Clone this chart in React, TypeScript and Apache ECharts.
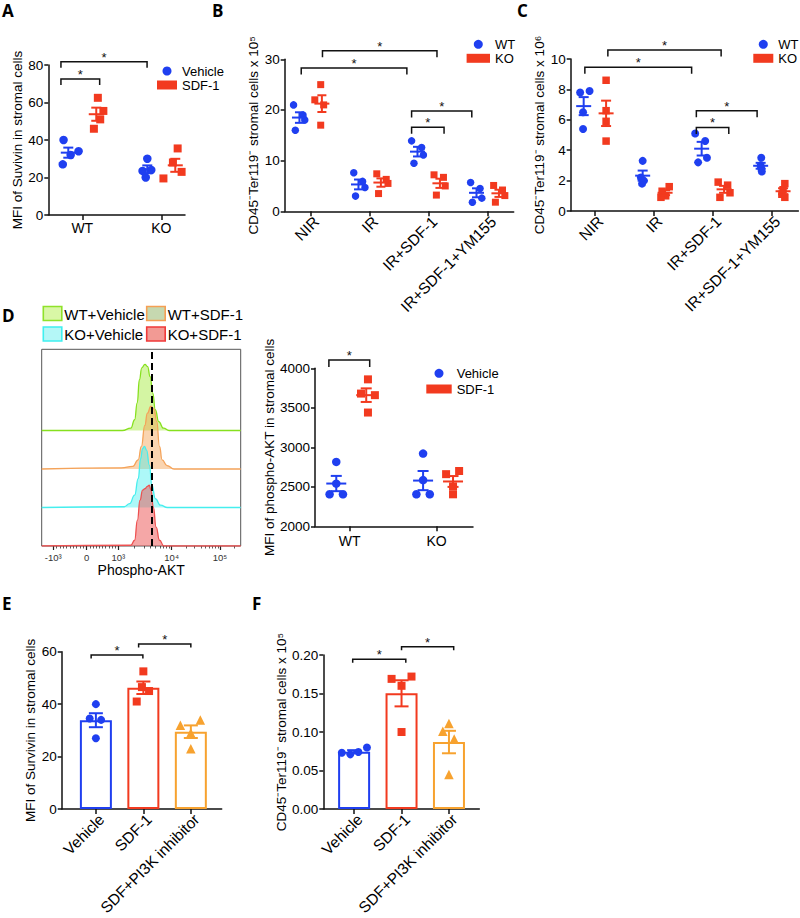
import React, { useEffect, useRef } from 'react';
import * as echarts from 'echarts';

const FONT = '"Liberation Sans", Arial, Helvetica, sans-serif';
const BLUE = '#1f3ff0';
const RED = '#f23a1f';
const ORANGE = '#f7a22f';
const INK = '#111';

// ---------- Panel A ----------
const A_CATEGORIES = ['WT', 'KO'];
const A_VEHICLE = [[40, 27, 32, 34], [30, 20, 24, 23.5]];
const A_SDF1 = [[62.5, 51, 46, 55.5], [35.5, 23, 19.5, 28]];
const A_VEHICLE_SPREAD = [[-0.06, -0.07, 0.03, 0.13], [0, -0.02, 0.05, -0.06]];
const A_SDF1_SPREAD = [[0.02, 0.05, -0.03, 0.09], [0.03, 0.08, -0.15, -0.03]];
const A_BRACKETS = [[-0.27, 0.22, 72.5], [-0.27, 0.82, 81.8]];

// ---------- Panels B & C ----------
const BC_CATEGORIES = ['NIR', 'IR', 'IR+SDF-1', 'IR+SDF-1+YM155'];
const B_WT = [[21, 16, 19, 18], [7.6, 3.0, 5.9, 4.7], [13.9, 9.5, 12.6, 11.1], [5.7, 1.8, 4.5, 2.6]];
const B_KO = [[25, 22, 21, 17], [7.4, 3.5, 6.3, 5.5], [7.2, 6.7, 5.0, 3.2], [5.1, 4.2, 3.1, 1.8]];
const B_WT_SPREAD = [[-0.1, -0.07, 0.06, 0.09], [-0.08, -0.05, 0.07, 0.11], [-0.1, -0.06, 0.07, 0.1], [-0.1, -0.07, 0.06, 0.09]];
const B_KO_SPREAD = [[-0.02, -0.12, 0.03, -0.02], [-0.07, -0.04, 0.09, 0.12], [-0.1, 0.06, 0.09, -0.06], [-0.09, 0.06, 0.1, -0.06]];
const B_BRACKETS = [[-0.16, 1.63, 28.3], [0.2, 2.14, 31.7], [1.71, 2.26, 16.6], [1.71, 2.73, 19.8]];

const C_WT = [[7.8, 7.9, 6.5, 5.4], [3.3, 2.2, 1.8, 2.0], [5.1, 4.6, 3.5, 3.2], [3.5, 3.0, 2.8, 2.6]];
const C_KO = [[8.6, 6.6, 5.9, 4.6], [1.6, 1.3, 1.0, 0.9], [1.9, 1.7, 1.2, 0.9], [1.8, 1.4, 1.1, 0.9]];
const C_WT_SPREAD = [[-0.06, 0.1, -0.01, -0.01], [0, -0.03, -0.01, 0.02], [-0.11, 0.06, 0.09, -0.06], [0.01, 0, 0.01, 0.02]];
const C_KO_SPREAD = [[0, 0, 0, 0], [0.07, -0.05, 0.01, -0.07], [-0.1, 0.06, 0.1, -0.07], [0.03, 0, -0.02, 0.03]];
const C_BRACKETS = [[-0.17, 1.64, 9.45], [0.22, 2.14, 10.6], [1.72, 2.27, 5.5], [1.72, 2.75, 6.6]];

// ---------- Panel D (dot plot) ----------
const D_CATEGORIES = ['WT', 'KO'];
const D_VEHICLE = [[2815, 2540, 2405, 2405], [2920, 2585, 2405, 2405]];
const D_SDF1 = [[3860, 3680, 3660, 3440], [2660, 2700, 2505, 2405]];
const D_VEHICLE_SPREAD = [[0, 0, -0.077, 0.077], [0, 0, -0.077, 0.077]];
const D_SDF1_SPREAD = [[0.02, -0.06, 0.1, 0.02], [-0.08, 0.07, 0, 0]];
const D_BRACKETS = [[-0.24, 0.23, 4105]];

// ---------- Panel D (histograms) ----------
const HIST_TICK_POS = [58, 226, 385, 653, 896];
const HIST_TICK_LABELS = ['-10³', '0', '10³', '10⁴', '10⁵'];
const HIST_MEDIAN_LINE = 553;
const H_WT_VEH_X = [405, 448, 467, 480, 491, 503, 519, 532, 545, 558, 571, 588, 612, 640];
const H_WT_VEH_H = [0.0, 0.06, 0.28, 0.72, 1.32, 1.63, 1.72, 1.66, 1.4, 0.97, 0.54, 0.23, 0.06, 0];
const H_WT_SDF_X = [400, 458, 485, 501, 518, 531, 549, 564, 578, 592, 605, 630, 665];
const H_WT_SDF_H = [0.03, 0.07, 0.24, 0.59, 1.13, 1.45, 1.63, 1.56, 1.24, 0.59, 0.24, 0.09, 0];
const H_KO_VEH_X = [415, 442, 467, 485, 497, 507, 516, 527, 541, 554, 571, 597, 632];
const H_KO_VEH_H = [0.02, 0.1, 0.32, 0.75, 1.27, 1.53, 1.59, 1.49, 1.1, 0.58, 0.23, 0.06, 0];
const H_KO_SDF_X = [448, 467, 481, 494, 507, 519, 531, 541, 549, 561, 575, 592, 614];
const H_KO_SDF_H = [0.02, 0.15, 0.67, 1.19, 1.45, 1.49, 1.55, 1.58, 1.45, 1.01, 0.49, 0.15, 0];
const HIST_LEGEND = [
  { name: 'WT+Vehicle', fill: '#d9f7a6', stroke: '#8fe22a' },
  { name: 'WT+SDF-1', fill: '#c6d8b0', stroke: '#f5a054' },
  { name: 'KO+Vehicle', fill: '#b4f7f7', stroke: '#3ff0f0' },
  { name: 'KO+SDF-1', fill: '#f29a94', stroke: '#f03a3a' },
];

// ---------- Panels E & F ----------
const EF_CATEGORIES = ['Vehicle', 'SDF-1', 'SDF+PI3K inhibitor'];
const EF_COLORS = [BLUE, RED, ORANGE];
const EF_SYMBOLS = ['circle', 'rect', 'triangle'];
const E_VALUES = [[40, 34.5, 34, 27], [52.5, 46.5, 45, 41], [32, 34, 29, 23]];
const E_SPREAD = [[0, -0.13, 0.11, 0], [0, -0.03, 0.12, -0.14], [-0.22, 0.2, 0, 0]];
const E_BRACKETS = [[-0.1, 0.99, 58.7], [0.9, 2.0, 62.9]];
const F_VALUES = [[0.073, 0.071, 0.074, 0.08], [0.169, 0.172, 0.16, 0.1], [0.111, 0.101, 0.091, 0.045]];
const F_SPREAD = [[-0.26, -0.08, 0.09, 0.27], [-0.21, 0.21, 0, 0], [0, -0.13, 0.11, 0]];
const F_BRACKETS = [[-0.03, 1.09, 0.1945], [1.0, 2.1, 0.2106]];

const mean = (a: number[]) => a.reduce((s, v) => s + v, 0) / a.length;
const sem = (a: number[]) => {
  const m = mean(a);
  return Math.sqrt(a.reduce((s, v) => s + (v - m) ** 2, 0) / (a.length - 1)) / Math.sqrt(a.length);
};

const axisLineStyle = { color: INK, width: 1.5 };
const TICK_FONT = 13.5;

function xAxisCat(idx: number, min: number, max: number, labels: string[], rotate: number, margin: number) {
  const vals = labels.map((_, i) => i);
  const rotated = rotate !== 0;
  return {
    type: 'value', gridIndex: idx, min, max,
    axisLine: { show: true, onZero: false, lineStyle: axisLineStyle },
    axisTick: { show: true, customValues: vals, length: 5, lineStyle: axisLineStyle },
    axisLabel: {
      customValues: vals, formatter: (v: number) => labels[Math.round(v)] ?? '', rotate, margin,
      fontSize: rotated ? 15.5 : 14, color: '#000', fontFamily: FONT,
      ...(rotated ? { align: 'right', verticalAlign: 'top' } : {}),
    },
    splitLine: { show: false },
  };
}

function yAxisVal(idx: number, min: number, max: number, interval: number, name: string, nameGap: number, digits = 0) {
  return {
    type: 'value', gridIndex: idx, min, max, interval, name, nameLocation: 'middle', nameGap,
    nameTextStyle: { fontSize: 13.5, color: '#000', fontFamily: FONT },
    axisLine: { show: true, onZero: false, lineStyle: axisLineStyle },
    axisTick: { show: true, length: 4, lineStyle: axisLineStyle },
    axisLabel: { fontSize: TICK_FONT, color: '#000', fontFamily: FONT, margin: 5, formatter: (v: number) => v.toFixed(digits) },
    splitLine: { show: false },
  };
}

function scatterSeries(name: string, idx: number, groups: number[][], offset: number, spread: number[][], symbol: string, size: number, color: string) {
  const data: number[][] = [];
  groups.forEach((vals, ci) => vals.forEach((v, k) => data.push([ci + offset + spread[ci][k], v])));
  return { type: 'scatter', name, xAxisIndex: idx, yAxisIndex: idx, data, symbol, symbolSize: size, itemStyle: { color, opacity: 1 }, z: 3, clip: false, silent: true };
}

function errorSeries(idx: number, groups: number[][], offset: number, color: string, meanW: number, capW: number) {
  const data = groups.map((vals, ci) => [ci + offset, mean(vals), sem(vals)]);
  return {
    type: 'custom', xAxisIndex: idx, yAxisIndex: idx, z: 4, clip: false, silent: true, data,
    encode: { x: 0, y: 1 },
    renderItem: (_p: any, api: any) => {
      const x = api.value(0), m = api.value(1), s = api.value(2);
      const c = api.coord([x, m]);
      const hi = api.coord([x, m + s]);
      const lo = api.coord([x, m - s]);
      const st = { stroke: color, lineWidth: 2 };
      const ch: any[] = [
        { type: 'line', shape: { x1: c[0], y1: hi[1], x2: c[0], y2: lo[1] }, style: st },
        { type: 'line', shape: { x1: c[0] - capW / 2, y1: hi[1], x2: c[0] + capW / 2, y2: hi[1] }, style: st },
        { type: 'line', shape: { x1: c[0] - capW / 2, y1: lo[1], x2: c[0] + capW / 2, y2: lo[1] }, style: st },
      ];
      if (meanW > 0) ch.push({ type: 'line', shape: { x1: c[0] - meanW / 2, y1: c[1], x2: c[0] + meanW / 2, y2: c[1] }, style: st });
      return { type: 'group', children: ch };
    },
  };
}

function bracketSeries(idx: number, brackets: number[][], leg: number) {
  return {
    type: 'custom', xAxisIndex: idx, yAxisIndex: idx, z: 5, clip: false, silent: true, data: brackets,
    encode: { x: [0, 1], y: 2 },
    renderItem: (_p: any, api: any) => {
      const a = api.coord([api.value(0), api.value(2)]);
      const b = api.coord([api.value(1), api.value(2)]);
      return {
        type: 'group',
        children: [
          { type: 'polyline', shape: { points: [[a[0], a[1] + leg], [a[0], a[1]], [b[0], b[1]], [b[0], b[1] + leg]] }, style: { stroke: INK, lineWidth: 1.5, fill: 'none' } },
          { type: 'text', x: (a[0] + b[0]) / 2, y: a[1] - 4.5, style: { text: '*', fill: INK, font: `13px ${FONT}`, align: 'center', verticalAlign: 'middle' } },
        ],
      };
    },
  };
}

function histSeries(name: string, xs: number[], hs: number[], base: number, line: string, fill: string, extra: any = {}) {
  const data = [[0, base], ...xs.map((x, i) => [x, base + hs[i]]), [1000, base]];
  return {
    type: 'line', name, xAxisIndex: 6, yAxisIndex: 6, data, smooth: 0.5, smoothMonotone: 'x', symbol: 'none',
    lineStyle: { color: line, width: 1.3 }, areaStyle: { color: fill, origin: base, opacity: 1 }, z: 2, silent: true, ...extra,
  };
}

function legendAt(names: string[], left: number, top: number, itemWidth: number, itemGap: number) {
  return {
    data: names, left, top, orient: 'vertical', itemWidth, itemHeight: 9, itemGap, padding: 0, selectedMode: false,
    textStyle: { fontSize: 13, lineHeight: 14, color: '#000', fontFamily: FONT },
  };
}

function histMinorTicks() {
  const t: number[] = [];
  for (let v = 100; v < 1000; v += 100) { t.push(226 - (v / 1000) * 168); t.push(226 + (v / 1000) * 159); }
  for (let k = 2; k <= 9; k++) { t.push(385 + 268 * Math.log10(k)); t.push(653 + 243 * Math.log10(k)); }
  t.push(896 + 243 * Math.log10(2));
  return t;
}

function buildOption() {
  const CD45_5 = 'CD45⁻Ter119⁻ stromal cells x 10⁵';
  const CD45_6 = 'CD45⁻Ter119⁻ stromal cells x 10⁶';

  const grid = [
    { left: 48.3, top: 65, width: 136.7, height: 150 },
    { left: 284.7, top: 59.3, width: 229, height: 152 },
    { left: 570.7, top: 59, width: 227.7, height: 152 },
    { left: 315, top: 368.3, width: 158, height: 158 },
    { left: 61.7, top: 651.7, width: 160, height: 158.3 },
    { left: 323.3, top: 655, width: 156, height: 156.7 },
    { left: 41.7, top: 349.3, width: 199, height: 196.7, show: true, borderColor: '#555', borderWidth: 1, backgroundColor: 'rgba(0,0,0,0)' },
  ];

  const xAxis: any[] = [
    xAxisCat(0, -0.43, 1.3, A_CATEGORIES, 0, 6),
    xAxisCat(1, -0.44, 3.44, BC_CATEGORIES, 45, 2),
    xAxisCat(2, -0.41, 3.45, BC_CATEGORIES, 45, 2),
    xAxisCat(3, -0.4, 1.42, D_CATEGORIES, 0, 8),
    xAxisCat(4, -0.72, 2.65, EF_CATEGORIES, 45, 2),
    xAxisCat(5, -0.65, 2.64, EF_CATEGORIES, 45, 2),
    {
      type: 'value', gridIndex: 6, min: 0, max: 1000, position: 'bottom',
      axisLine: { show: false }, splitLine: { show: false },
      axisTick: { show: true, customValues: HIST_TICK_POS, length: 4, lineStyle: { color: '#222', width: 1.2 } },
      axisLabel: {
        customValues: HIST_TICK_POS, margin: 6, fontSize: 9.5, color: '#333', fontFamily: FONT,
        formatter: (v: number) => {
          let best = 0;
          HIST_TICK_POS.forEach((p, i) => { if (Math.abs(p - v) < Math.abs(HIST_TICK_POS[best] - v)) best = i; });
          return HIST_TICK_LABELS[best];
        },
      },
      name: 'Phospho-AKT', nameLocation: 'middle', nameGap: 16,
      nameTextStyle: { fontSize: 14, color: '#000', fontFamily: FONT },
    },
    {
      type: 'value', gridIndex: 6, min: 0, max: 1000, position: 'bottom',
      axisLine: { show: false }, splitLine: { show: false }, axisLabel: { show: false },
      axisTick: { show: true, customValues: histMinorTicks(), length: 2.5, lineStyle: { color: '#333', width: 0.8 } },
    },
  ];

  const yAxis: any[] = [
    yAxisVal(0, 0, 80, 20, 'MFI of Suvivin in stromal cells', 22),
    yAxisVal(1, 0, 30, 10, CD45_5, 24),
    yAxisVal(2, 0, 10, 2, CD45_6, 21),
    yAxisVal(3, 2000, 4000, 500, 'MFI of phospho-AKT in stromal cells', 38),
    yAxisVal(4, 0, 60, 20, 'MFI of Survivin in stromal cells', 18),
    yAxisVal(5, 0, 0.2, 0.05, CD45_5, 33, 2),
    { type: 'value', gridIndex: 6, min: 0, max: 5.11, show: false },
  ];

  const series: any[] = [
    // A
    scatterSeries('Vehicle', 0, A_VEHICLE, -0.177, A_VEHICLE_SPREAD, 'circle', 8.5, BLUE),
    scatterSeries('SDF-1', 0, A_SDF1, 0.177, A_SDF1_SPREAD, 'rect', 8, RED),
    errorSeries(0, A_VEHICLE, -0.177, BLUE, 15, 10),
    errorSeries(0, A_SDF1, 0.177, RED, 15, 10),
    bracketSeries(0, A_BRACKETS, 6),
    // B
    scatterSeries('WT', 1, B_WT, -0.19, B_WT_SPREAD, 'circle', 7.5, BLUE),
    scatterSeries('KO', 1, B_KO, 0.19, B_KO_SPREAD, 'rect', 7, RED),
    errorSeries(1, B_WT, -0.19, BLUE, 15, 9),
    errorSeries(1, B_KO, 0.19, RED, 15, 9),
    bracketSeries(1, B_BRACKETS, 6.5),
    // C
    scatterSeries('WT', 2, C_WT, -0.19, C_WT_SPREAD, 'circle', 8, BLUE),
    scatterSeries('KO', 2, C_KO, 0.19, C_KO_SPREAD, 'rect', 7.5, RED),
    errorSeries(2, C_WT, -0.19, BLUE, 15, 10),
    errorSeries(2, C_KO, 0.19, RED, 15, 10),
    bracketSeries(2, C_BRACKETS, 6.5),
    // D dot plot
    scatterSeries('Vehicle', 3, D_VEHICLE, -0.155, D_VEHICLE_SPREAD, 'circle', 8.5, BLUE),
    scatterSeries('SDF-1', 3, D_SDF1, 0.19, D_SDF1_SPREAD, 'rect', 8, RED),
    errorSeries(3, D_VEHICLE, -0.155, BLUE, 20, 11),
    errorSeries(3, D_SDF1, 0.19, RED, 20, 11),
    bracketSeries(3, D_BRACKETS, 7),
    // E
    {
      type: 'bar', xAxisIndex: 4, yAxisIndex: 4, barWidth: 32, z: 2, silent: true,
      data: E_VALUES.map((v, ci) => ({ value: [ci, mean(v)], itemStyle: { color: '#fff', borderColor: EF_COLORS[ci], borderWidth: 2 } })),
    },
    ...E_VALUES.map((v, ci) => scatterSeries('E-' + ci, 4, [v], ci, [E_SPREAD[ci]], EF_SYMBOLS[ci], ci === 2 ? 9.5 : 8, EF_COLORS[ci])),
    ...E_VALUES.map((v, ci) => errorSeries(4, [v], ci, EF_COLORS[ci], 0, 14)),
    bracketSeries(4, E_BRACKETS, 3.5),
    // F
    {
      type: 'bar', xAxisIndex: 5, yAxisIndex: 5, barWidth: 32, z: 2, silent: true,
      data: F_VALUES.map((v, ci) => ({ value: [ci, mean(v)], itemStyle: { color: '#fff', borderColor: EF_COLORS[ci], borderWidth: 2 } })),
    },
    ...F_VALUES.map((v, ci) => scatterSeries('F-' + ci, 5, [v], ci, [F_SPREAD[ci]], EF_SYMBOLS[ci], ci === 2 ? 9.5 : 8, EF_COLORS[ci])),
    ...F_VALUES.map((v, ci) => errorSeries(5, [v], ci, EF_COLORS[ci], 0, 14)),
    bracketSeries(5, F_BRACKETS, 3.5),
    // D histograms
    histSeries('WT+Vehicle', H_WT_VEH_X, H_WT_VEH_H, 3, '#86e01e', 'rgba(160,232,50,0.45)'),
    histSeries('WT+SDF-1', H_WT_SDF_X, H_WT_SDF_H, 2, '#f4a35a', 'rgba(244,160,80,0.45)'),
    histSeries('KO+Vehicle', H_KO_VEH_X, H_KO_VEH_H, 1, '#45eeee', 'rgba(60,238,238,0.42)'),
    histSeries('KO+SDF-1', H_KO_SDF_X, H_KO_SDF_H, 0, '#ee5050', 'rgba(236,80,80,0.5)', {
      markLine: {
        silent: true, symbol: ['none', 'none'], label: { show: false },
        lineStyle: { color: '#000', type: [7, 4], width: 2 },
        data: [{ xAxis: HIST_MEDIAN_LINE }],
      },
    }),
  ];

  const legend = [
    legendAt(['Vehicle', 'SDF-1'], 157, 64, 20, 0),
    legendAt(['WT', 'KO'], 466.6, 37.3, 23.4, 0),
    legendAt(['WT', 'KO'], 753.3, 37.3, 20, 0),
    legendAt(['Vehicle', 'SDF-1'], 426.3, 366.3, 25.4, 1.7),
  ];

  const letters = [['A', 2, 2], ['B', 212, 2], ['C', 517, 2], ['D', 2, 307], ['E', 2, 595], ['F', 252, 595]];
  const graphic: any[] = letters.map(([t, x, y]) => ({
    type: 'text', x, y, silent: true,
    style: { text: t, font: 'bold 17px "Open Sans", "Liberation Sans", sans-serif', fill: '#000', verticalAlign: 'top' },
  }));
  const colX = [43.3, 146.7];
  const rowY = [306.5, 327];
  HIST_LEGEND.forEach((it, i) => {
    const x = colX[i % 2], y = rowY[Math.floor(i / 2)];
    graphic.push({ type: 'rect', x, y, shape: { width: 18.5, height: 14 }, silent: true, style: { fill: it.fill, stroke: it.stroke, lineWidth: 1.6 } });
    graphic.push({ type: 'text', x: x + 21, y: y + 7.5, silent: true, style: { text: it.name, font: `15px ${FONT}`, fill: '#000', verticalAlign: 'middle' } });
  });

  return { animation: false, backgroundColor: '#fff', grid, xAxis, yAxis, series, legend, graphic };
}

export default function App() {
  const ref = useRef<HTMLDivElement>(null);
  useEffect(() => {
    document.body.style.margin = '0';
    if (!ref.current) return;
    const chart = echarts.init(ref.current, undefined, { renderer: 'svg' });
    chart.setOption(buildOption() as any);
    return () => chart.dispose();
  }, []);
  return <div ref={ref} style={{ width: 800, height: 918 }} />;
}
